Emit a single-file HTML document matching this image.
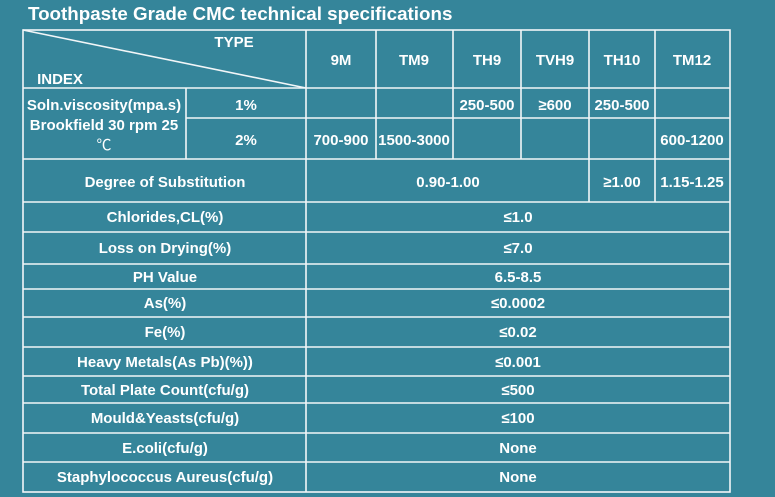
<!DOCTYPE html>
<html><head><meta charset="utf-8"><style>
body{margin:0;background:#35859a;}
svg{display:block}
text{font-family:"Liberation Sans","Noto Sans CJK SC",sans-serif;font-weight:bold;fill:#fff;font-size:15px;text-anchor:middle}
</style></head><body>
<svg width="775" height="497">
<rect width="775" height="497" fill="#35859a"/>
<text x="28" y="20" style="font-size:18.8px;text-anchor:start">Toothpaste Grade CMC technical specifications</text>
<g stroke="#f2f6f8" stroke-width="1.6" fill="none">
<rect x="23" y="30" width="707" height="462"/>
<line x1="23" y1="30" x2="306" y2="88"/>
<line x1="23" y1="88" x2="730" y2="88"/>
<line x1="186" y1="118" x2="730" y2="118"/>
<line x1="23" y1="159" x2="730" y2="159"/>
<line x1="23" y1="202" x2="730" y2="202"/>
<line x1="23" y1="232" x2="730" y2="232"/>
<line x1="23" y1="264" x2="730" y2="264"/>
<line x1="23" y1="289" x2="730" y2="289"/>
<line x1="23" y1="317" x2="730" y2="317"/>
<line x1="23" y1="347" x2="730" y2="347"/>
<line x1="23" y1="376" x2="730" y2="376"/>
<line x1="23" y1="403" x2="730" y2="403"/>
<line x1="23" y1="433" x2="730" y2="433"/>
<line x1="23" y1="462" x2="730" y2="462"/>
<line x1="306" y1="30" x2="306" y2="492"/>
<line x1="186" y1="88" x2="186" y2="159"/>
<line x1="376" y1="30" x2="376" y2="159"/>
<line x1="453" y1="30" x2="453" y2="159"/>
<line x1="521" y1="30" x2="521" y2="159"/>
<line x1="589" y1="30" x2="589" y2="202"/>
<line x1="655" y1="30" x2="655" y2="202"/>
</g>
<g>
<text x="234" y="47">TYPE</text>
<text x="60" y="84">INDEX</text>
<text x="341" y="65">9M</text>
<text x="414" y="65">TM9</text>
<text x="487" y="65">TH9</text>
<text x="555" y="65">TVH9</text>
<text x="622" y="65">TH10</text>
<text x="692" y="65">TM12</text>
</g>
<g>
<text x="104" y="110">Soln.viscosity(mpa.s)</text>
<text x="104" y="130">Brookfield 30 rpm 25</text>
<text x="104" y="150" style="font-weight:normal">℃</text>
<text x="246" y="110">1%</text>
<text x="246" y="145">2%</text>
<text x="487" y="110">250-500</text>
<text x="555" y="110">≥600</text>
<text x="622" y="110">250-500</text>
<text x="341" y="145">700-900</text>
<text x="414" y="145">1500-3000</text>
<text x="692" y="145">600-1200</text>
</g>
<g>
<text x="165" y="187">Degree of Substitution</text>
<text x="448" y="187">0.90-1.00</text>
<text x="622" y="187">≥1.00</text>
<text x="692" y="187">1.15-1.25</text>
<text x="165" y="222">Chlorides,CL(%)</text><text x="518" y="222">≤1.0</text>
<text x="165" y="253">Loss on Drying(%)</text><text x="518" y="253">≤7.0</text>
<text x="165" y="282">PH Value</text><text x="518" y="282">6.5-8.5</text>
<text x="165" y="308">As(%)</text><text x="518" y="308">≤0.0002</text>
<text x="165" y="337">Fe(%)</text><text x="518" y="337">≤0.02</text>
<text x="165" y="367">Heavy Metals(As Pb)(%))</text><text x="518" y="367">≤0.001</text>
<text x="165" y="395">Total Plate Count(cfu/g)</text><text x="518" y="395">≤500</text>
<text x="165" y="423">Mould&amp;Yeasts(cfu/g)</text><text x="518" y="423">≤100</text>
<text x="165" y="453">E.coli(cfu/g)</text><text x="518" y="453">None</text>
<text x="165" y="482">Staphylococcus Aureus(cfu/g)</text><text x="518" y="482">None</text>
</g>
</svg>
</body></html>
